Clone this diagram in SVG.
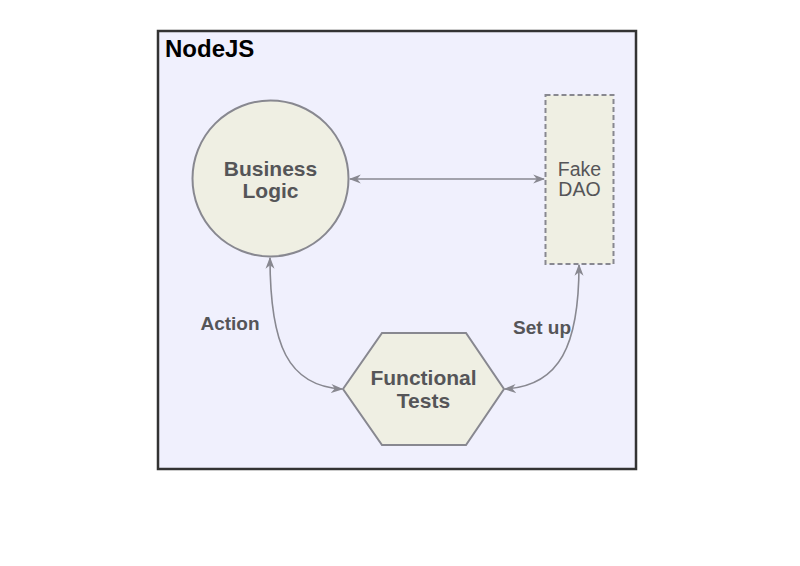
<svg xmlns="http://www.w3.org/2000/svg" width="800" height="566" viewBox="0 0 800 566">
<style>
.node{fill:#efefe3;stroke:#888890;stroke-width:2}
.lbl{font-family:"Liberation Sans",Arial,sans-serif;fill:#555558;text-anchor:middle}
.b{font-weight:bold}
.conn{fill:none;stroke:#888890;stroke-width:1.6}
</style>
<defs>
<marker id="ah" viewBox="0 0 10 10" refX="9" refY="5" markerWidth="12" markerHeight="10" orient="auto-start-reverse" markerUnits="userSpaceOnUse" preserveAspectRatio="none">
<path d="M0,0.5 L10,5 L0,9.5 L3,5 Z" fill="#888890"/>
</marker>
</defs>
<rect width="800" height="566" fill="#ffffff"/>
<g id="nodejs">
<rect x="158" y="31" width="478" height="438" fill="#f0f0fd" stroke="#333333" stroke-width="2.5"/>
<text x="165" y="57" font-family="Liberation Sans,Arial,sans-serif" font-weight="bold" font-size="24" fill="#000">NodeJS</text>
</g>
<g id="business-logic">
<circle cx="270.5" cy="178.5" r="78" class="node"/>
<text class="lbl b" font-size="21" x="270.5" y="176">Business</text>
<text class="lbl b" font-size="21" x="270.5" y="198">Logic</text>
</g>
<g id="fake-dao">
<rect x="545.5" y="95" width="68" height="169" class="node" stroke-dasharray="5,3"/>
<text class="lbl" font-size="19.5" x="579.5" y="176">Fake</text>
<text class="lbl" font-size="19.5" x="579.5" y="196">DAO</text>
</g>
<g id="functional-tests">
<polygon points="343,389 382,333 466,333 504,389 466,445 382,445" class="node"/>
<text class="lbl b" font-size="21" x="423.5" y="385">Functional</text>
<text class="lbl b" font-size="21" x="423.5" y="408">Tests</text>
</g>
<g id="connectors">
<path class="conn" d="M350,179 L544,179" marker-start="url(#ah)" marker-end="url(#ah)"/>
<path class="conn" d="M270,258 C270,345 288,386 342,389" marker-start="url(#ah)" marker-end="url(#ah)"/>
<path class="conn" d="M505,389 C560,386 579,345 579,265" marker-start="url(#ah)" marker-end="url(#ah)"/>
<text class="lbl b" font-size="19" x="230" y="330">Action</text>
<text class="lbl b" font-size="19" x="542" y="334">Set up</text>
</g>
</svg>
